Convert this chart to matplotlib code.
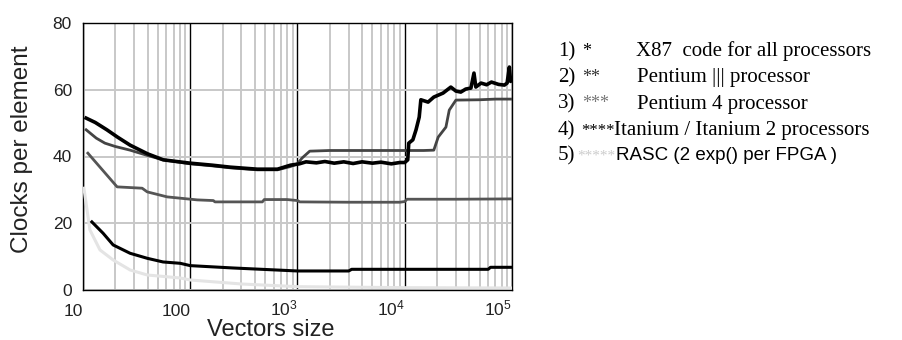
import matplotlib.pyplot as plt
import numpy as np

# series (x = vector size, y = clocks per element)
x87_x = [10.7, 13, 16.7, 21, 27.5, 40, 56, 100, 160, 237, 422, 650, 860, 1040,
         1200, 1500, 1800, 2200, 2700, 3300, 4000, 5000, 6000, 7500, 9000, 10000,
         10660, 10900, 11900, 12740, 13640, 14130, 16500, 18660, 22750, 26900,
         30000, 33300, 37000, 41400, 44200, 46000, 51400, 58000, 64300, 75000,
         85000, 90000, 94500, 97000, 100000]
x87_y = [51.5, 50.2, 48.0, 45.8, 43.4, 40.8, 39.0, 38.0, 37.4, 36.8, 36.2, 36.2, 37.4, 37.8,
         38.4, 38.1, 38.5, 38.0, 38.4, 37.9, 38.4, 38.0, 38.3, 37.8, 38.2, 38.2,
         39.0, 44.0, 45.0, 48.0, 51.8, 57.0, 56.3, 57.8, 59.0, 60.8,
         59.6, 59.3, 60.2, 60.5, 65.0, 60.8, 62.0, 61.5, 62.3, 61.6,
         61.4, 62.0, 66.8, 62.5, 63.0]

p3_x = [10.7, 13.3, 16, 20, 27.5, 40, 56, 100, 160, 237, 422, 650, 860, 1000,
        1100, 1300, 2000, 5000, 10000, 15000, 18660, 20500, 24200, 26000, 30000,
        50000, 70000, 100000]
p3_y = [48.0, 45.5, 44.0, 43.0, 41.9, 40.3, 39.0, 37.8, 37.2, 36.6, 36.0, 36.0, 37.0, 37.8,
        39.5, 41.6, 41.8, 41.8, 41.8, 41.8, 41.9, 45.8, 48.8, 53.9, 56.9,
        57.0, 57.2, 57.2]

p4_x = [11.1, 20.8, 35.6, 39.7, 60.9, 116, 164, 170, 470, 490, 800, 1000, 1050,
        3000, 9000, 10000, 10500, 30000, 100000]
p4_y = [41.0, 30.9, 30.5, 29.4, 27.9, 27.0, 26.8, 26.4, 26.4, 27.1, 27.1, 26.8, 26.4,
        26.3, 26.3, 26.5, 27.2, 27.2, 27.3]

ita_x = [12.1, 15.4, 19.1, 27.5, 39.7, 55.8, 80.6, 100, 250, 1000, 3000, 3200,
         10000, 60000, 63000, 100000]
ita_y = [20.4, 17.0, 13.5, 11.0, 9.5, 8.4, 8.0, 7.3, 6.6, 5.7, 5.7, 6.2,
         6.2, 6.2, 6.8, 6.8]

rasc_x = [10.2, 11.6, 14.4, 19.1, 27.5, 39.7, 80.6, 100, 300, 1000, 10000, 100000]
rasc_y = [30.5, 18.0, 12.0, 9.0, 6.0, 4.5, 3.6, 3.0, 1.8, 1.0, 0.7, 0.6]

xtick_vals = [10, 100, 1000, 10000, 100000]
xtick_labels = ['10', '100', r'$\mathregular{10^3}$', r'$\mathregular{10^4}$', r'$\mathregular{10^5}$']
ytick_vals = [0, 20, 40, 60, 80]

legend_num = ['1)', '2)', '3)', '4)', '5)']
legend_stars = ['*', '**', '***', '****', '*****']
legend_names = ['X87  code for all processors', 'Pentium ||| processor',
                'Pentium 4 processor', 'Itanium / Itanium 2 processors',
                'RASC (2 exp() per FPGA )']

plt.rcParams['font.family'] = 'Liberation Sans'

fig = plt.figure(figsize=(9.03, 3.4), dpi=100)
ax = fig.add_axes([83 / 903, 1 - 290 / 340, 429 / 903, 267 / 340])

ax.plot(rasc_x, rasc_y, color='#e4e4e4', lw=2.2, zorder=3)
ax.plot(p4_x, p4_y, color='#555555', lw=2, zorder=4)
ax.plot(p3_x, p3_y, color='#444444', lw=2, zorder=5)
ax.plot(ita_x, ita_y, color='black', lw=2.2, zorder=6)
ax.plot(x87_x, x87_y, color='black', lw=2.6, zorder=7)

ax.set_xscale('log')
ax.set_xlim(10, 100000)
ax.set_ylim(0, 80)
ax.set_xticks(xtick_vals)
ax.set_xticklabels(xtick_labels)
ax.set_yticks(ytick_vals)
ax.xaxis.set_minor_locator(plt.matplotlib.ticker.LogLocator(base=10, subs=np.arange(2, 10)))
ax.xaxis.set_minor_formatter(plt.NullFormatter())

ax.grid(which='minor', axis='x', color='#c8c8c8', lw=1.4, zorder=1)
ax.grid(which='major', axis='x', color='black', lw=1.0, zorder=2)
ax.grid(which='major', axis='y', color='#c8c8c8', lw=1.4, zorder=1)
ax.set_axisbelow(True)

ax.tick_params(axis='both', which='both', length=0, labelsize=12.5, labelcolor='#222222')
ax.tick_params(axis='y', pad=8)
ax.tick_params(axis='x', pad=18.5)
for lbl in ax.get_xticklabels():
    lbl.set_ha('right')
    lbl.set_va('baseline')

for s in ax.spines.values():
    s.set_color('black')
    s.set_linewidth(1.0)

ax.set_xlabel('Vectors size', fontsize=17, color='#222222')
ax.xaxis.set_label_coords(0.438, -0.148)
ax.xaxis.label.set_va('center')
ax.set_ylabel('Clocks per element', fontsize=17.5, color='#222222')
ax.yaxis.set_label_coords(-0.142, 0.528)
ax.yaxis.label.set_va('center')

# legend drawn as text lines
row_base = [56, 82, 108.5, 135, 160]
star_x = [582, 582, 582, 581, 577]
star_size = [13, 13, 13, 12, 11]
name_x = [636, 637, 637, 614, 616]
star_col = ['black', '#333333', '#777777', 'black', '#cccccc']
for i in range(5):
    yy = 1 - row_base[i] / 340
    fig.text(558 / 903, yy, legend_num[i], family='Liberation Serif', fontsize=15, va='baseline')
    fig.text(star_x[i] / 903, yy, legend_stars[i], family='Liberation Serif',
             fontsize=star_size[i], va='baseline', color=star_col[i])
    if i < 4:
        fig.text(name_x[i] / 903, yy, legend_names[i], family='Liberation Serif',
                 fontsize=15, va='baseline')
    else:
        fig.text(name_x[i] / 903, yy, legend_names[i], family='Liberation Sans',
                 fontsize=13.5, va='baseline')

fig.savefig('out.png', dpi=100)
